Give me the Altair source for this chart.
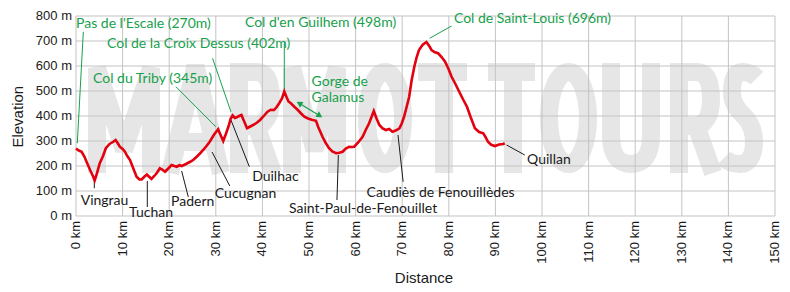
import altair as alt
import pandas as pd

# ---------------- data ----------------
dist_km = [0.0, 0.6, 1.2, 1.8, 2.4, 3.0, 3.7, 4.0, 4.4, 5.1, 5.8, 6.4, 7.2, 8.0, 8.5, 9.0, 9.4,
           10.0, 10.5, 11.0, 11.6, 12.3, 13.0, 13.6, 14.1, 14.7, 15.2, 15.7, 16.2, 16.8, 17.3,
           18.0, 18.5, 19.1, 19.8, 20.5, 21.1, 21.6, 22.2, 22.7, 23.6, 24.5, 25.2, 25.9, 26.6,
           27.3, 28.0, 28.7, 29.6, 30.5, 31.0, 31.6, 32.2, 32.7, 33.2, 33.6, 34.1, 34.5, 35.0,
           35.5, 36.1, 36.7, 37.3, 38.0, 38.8, 39.5, 40.3, 41.1, 41.8, 42.5, 43.1, 43.6, 44.2,
           44.7, 45.2, 45.6, 46.1, 46.8, 47.6, 48.3, 49.0, 49.8, 50.6, 51.5, 52.0, 52.9, 53.6,
           54.3, 55.0, 55.8, 56.5, 57.2, 57.9, 58.6, 59.2, 59.7, 60.6, 61.5, 62.2, 62.9, 63.5,
           63.9, 64.5, 65.1, 65.8, 66.5, 67.2, 67.9, 68.6, 69.4, 69.9, 70.4, 71.0, 71.5, 72.0,
           72.6, 73.1, 73.6, 74.4, 75.2, 75.8, 76.3, 77.0, 77.7, 78.5, 79.2, 79.9, 80.6, 81.5,
           82.4, 83.1, 83.9, 84.7, 85.6, 86.5, 87.4, 87.9, 88.4, 89.1, 89.9, 90.8, 91.7, 92.0]
elev_m = [270, 262, 257, 238, 211, 185, 157, 142, 165, 211, 240, 271, 288, 297, 304, 290, 277,
          268, 257, 240, 224, 190, 157, 146, 146, 158, 166, 157, 148, 160, 171,
          191, 186, 177, 190, 204, 200, 197, 203, 200, 208, 217, 225, 237, 250,
          264, 280, 297, 325, 347, 325, 300, 330, 357, 390, 402, 392, 395, 400,
          404, 378, 351, 357, 364, 373, 384, 400, 417, 425, 424, 437, 451, 470,
          498, 475, 458, 451, 438, 424, 410, 397, 390, 385, 381, 355, 317, 292,
          271, 258, 251, 253, 257, 270, 277, 276, 277, 295, 317, 345, 371, 400,
          420, 390, 364, 350, 344, 348, 337, 342, 351, 370, 397, 440, 477, 540,
          597, 635, 664, 685, 696, 680, 664, 655, 651, 635, 617, 590, 557, 525,
          491, 465, 437, 395, 351, 336, 331, 315, 297, 285, 280, 286, 288, 291]

x_ticks = list(range(0, 151, 10))
y_ticks = list(range(0, 801, 100))
x_tick_labels = [f"{v} km" for v in x_ticks]
y_tick_labels = [f"{v} m" for v in y_ticks]
x_title = "Distance"
y_title = "Elevation"

col_labels = ["Pas de l'Escale (270m)", "Col de la Croix Dessus (402m)", "Col du Triby (345m)",
              "Col d'en Guilhem (498m)", "Col de Saint-Louis (696m)", "Gorge de", "Galamus"]
col_label_km = [0.0, 6.65, 3.65, 36.25, 81.1, 50.55, 50.55]
col_label_m = [768, 688, 548, 772, 788, 537, 471]

town_labels = ["Vingrau", "Tuchan", "Padern", "Cucugnan", "Duilhac",
               "Saint-Paul-de-Fenouillet", "Caudiès de Fenouillèdes", "Quillan"]
town_label_km = [1.0, 11.4, 20.4, 29.8, 37.8, 45.7, 62.35, 96.8]
town_label_m = [60, 12, 56, 87, 157, 27, 93, 224]

green_lead_km = [0.28, 33.25, 30.0, 44.7, 75.9]
green_lead_m = [291, 417, 357, 504, 711]
green_lead_km2 = [1.57, 29.3, 21.45, 44.7, 80.6]
green_lead_m2 = [737, 631, 517, 696, 760]

black_lead_km = [3.93, 15.3, 22.67, 29.2, 33.25, 56.3, 69.1, 92.4]
black_lead_m = [140, 140, 180, 256, 384, 244, 324, 284]
black_lead_km2 = [3.93, 15.3, 24.1, 33.0, 37.2, 56.0, 70.2, 96.3]
black_lead_m2 = [111, 36, 76, 120, 197, 64, 137, 244]

gorge_km = [47.9, 52.3]
gorge_m = [451, 401]
gorge_head_angle = [211.4, 31.4]

GREEN = "#18a04c"
RED = "#e3000f"
INK = "#1a1a1a"
GRID = "#c4c4c4"
W, H = 699, 200
PAD_L, PAD_T = 76, 16

# ---------------- watermark glyph path (decoration) ----------------
WM_CX, WM_CY, WM_R = 425.0, 118.0, 350.0


def pt(x, y):
    return f"{(x - WM_CX) / WM_R:.4f} {(y - WM_CY) / WM_R:.4f}"


def ellipse(cx, cy, rx, ry):
    k = 0.5523
    return (f"M {pt(cx - rx, cy)} "
            f"C {pt(cx - rx, cy - ry * k)} {pt(cx - rx * k, cy - ry)} {pt(cx, cy - ry)} "
            f"C {pt(cx + rx * k, cy - ry)} {pt(cx + rx, cy - ry * k)} {pt(cx + rx, cy)} "
            f"C {pt(cx + rx, cy + ry * k)} {pt(cx + rx * k, cy + ry)} {pt(cx, cy + ry)} "
            f"C {pt(cx - rx * k, cy + ry)} {pt(cx - rx, cy + ry * k)} {pt(cx - rx, cy)} Z ")


def letter_m(l, r):
    return f"M {pt(l, 173)} L {pt(l, 68)} L {pt((l + r) / 2, 150)} L {pt(r, 68)} L {pt(r, 173)} "


def letter_r(s):
    return (f"M {pt(s, 173)} L {pt(s, 72)} L {pt(s + 17, 72)} "
            f"C {pt(s + 29, 72)} {pt(s + 32, 84)} {pt(s + 32, 99)} "
            f"C {pt(s + 32, 114)} {pt(s + 27, 126)} {pt(s + 15, 126)} L {pt(s, 126)} "
            f"M {pt(s + 18, 128)} L {pt(s + 34, 173)} ")


def letter_t(l, r, stem):
    return f"M {pt(l, 72)} L {pt(r, 72)} M {pt(stem, 72)} L {pt(stem, 173)} "


wm_path = (
    letter_m(97, 151)
    + f"M {pt(170, 173)} L {pt(195.5, 66)} L {pt(221, 173)} M {pt(181, 142)} L {pt(210, 142)} "
    + letter_r(239)
    + letter_m(292, 337)
    + ellipse(385, 118, 18, 46)
    + letter_t(418, 467, 444)
    + letter_t(488, 535, 513)
    + ellipse(568.5, 118, 19.5, 46)
    + f"M {pt(611, 63)} L {pt(611, 135)} C {pt(611, 156)} {pt(619, 164)} {pt(631, 164)} "
      f"C {pt(643, 164)} {pt(651, 156)} {pt(651, 135)} L {pt(651, 63)} "
    + letter_r(679)
    + f"M {pt(757, 78)} C {pt(752, 73)} {pt(746, 72)} {pt(742, 72)} "
      f"C {pt(735, 72)} {pt(732, 80)} {pt(732, 92)} C {pt(732, 104)} {pt(738, 110)} {pt(744, 116)} "
      f"C {pt(750, 122)} {pt(754, 130)} {pt(754, 142)} C {pt(754, 157)} {pt(748, 164)} {pt(740, 164)} "
      f"C {pt(734, 164)} {pt(728, 162)} {pt(724, 158)}"
)

# ---------------- tables ----------------
profile = pd.DataFrame({"km": dist_km, "m": elev_m})
xt = pd.DataFrame({"km": x_ticks, "t": x_tick_labels})
yt = pd.DataFrame({"m": y_ticks, "t": y_tick_labels})
cols = pd.DataFrame({"t": col_labels, "km": col_label_km, "m": col_label_m})
towns = pd.DataFrame({"t": town_labels, "km": town_label_km, "m": town_label_m})
gl = pd.DataFrame({"km": green_lead_km, "m": green_lead_m, "km2": green_lead_km2, "m2": green_lead_m2})
bl = pd.DataFrame({"km": black_lead_km, "m": black_lead_m, "km2": black_lead_km2, "m2": black_lead_m2})
gorge = pd.DataFrame({"km": gorge_km, "m": gorge_m, "a": gorge_head_angle})
gorge_seg = pd.DataFrame({"km": [gorge_km[0]], "m": [gorge_m[0]], "km2": [gorge_km[1]], "m2": [gorge_m[1]]})
one = pd.DataFrame({"k": [0]})

xs = alt.Scale(domain=[0, 150], nice=False, zero=False)
ys = alt.Scale(domain=[0, 800], nice=False)
X = alt.X("km:Q", scale=xs, axis=None)
Y = alt.Y("m:Q", scale=ys, axis=None)

watermark = alt.Chart(one).mark_point(
    shape=wm_path, size=(2 * WM_R) ** 2, filled=False, color="#c4c4c4",
    strokeWidth=18, opacity=0.42, strokeJoin="miter", strokeMiterLimit=2, strokeCap="butt"
).encode(x=alt.value(WM_CX - PAD_L), y=alt.value(WM_CY - PAD_T))

# grid drawn as thin tick rectangles, one per tick value, through the scales
grid_v = alt.Chart(xt).mark_tick(orient="vertical", thickness=1, size=H, color=GRID,
                                 opacity=1).encode(x=X)
grid_h = alt.Chart(yt).mark_tick(orient="horizontal", thickness=1, size=W, color=GRID,
                                 opacity=1).encode(y=Y)

x_lab = alt.Chart(xt).mark_text(angle=270, align="right", baseline="middle",
                                font="Liberation Sans", fontSize=13, color=INK).encode(
    x=X, y=alt.value(H + 5), text="t:N")
y_lab = alt.Chart(yt).mark_text(align="right", baseline="middle",
                                font="Liberation Sans", fontSize=13, color=INK).encode(
    y=Y, x=alt.value(-4), text="t:N")
x_tit = alt.Chart(one).mark_text(align="center", baseline="middle", font="Liberation Sans",
                                 fontSize=15, color=INK, text=x_title).encode(
    x=alt.value(348), y=alt.value(H + 62))
y_tit = alt.Chart(one).mark_text(align="center", baseline="middle", font="Liberation Sans",
                                 fontSize=15, color=INK, text=y_title, angle=270).encode(
    x=alt.value(-58.5), y=alt.value(100.7))

profile_line = alt.Chart(profile).mark_line(color=RED, strokeWidth=2.6).encode(x=X, y=Y)

green_rules = alt.Chart(gl).mark_rule(color=GREEN, strokeWidth=1).encode(
    x=X, y=Y, x2="km2:Q", y2="m2:Q")
black_rules = alt.Chart(bl).mark_rule(color=INK, strokeWidth=1).encode(
    x=X, y=Y, x2="km2:Q", y2="m2:Q")
gorge_rule = alt.Chart(gorge_seg).mark_rule(color=GREEN, strokeWidth=1.3).encode(
    x=X, y=Y, x2="km2:Q", y2="m2:Q")
gorge_heads = alt.Chart(gorge).mark_point(shape="triangle-right", filled=True, color=GREEN,
                                          size=45, opacity=1).encode(
    x=X, y=Y, angle=alt.Angle("a:Q", scale=None))

col_text = alt.Chart(cols).mark_text(align="left", baseline="middle", font="Lato", fontSize=14,
                                     color=GREEN).encode(x=X, y=Y, text="t:N")
town_text = alt.Chart(towns).mark_text(align="left", baseline="middle", font="Lato", fontSize=14,
                                       color=INK).encode(x=X, y=Y, text="t:N")

chart = alt.layer(
    watermark, grid_v, grid_h, x_lab, y_lab, x_tit, y_tit,
    green_rules, black_rules, gorge_rule, gorge_heads,
    profile_line, col_text, town_text,
).properties(
    width=W, height=H,
    autosize=alt.AutoSizeParams(type="none"),
    padding={"left": PAD_L, "top": PAD_T, "right": 790 - PAD_L - W, "bottom": 292 - PAD_T - H},
).configure_view(stroke=None)

chart.save("out.html", embed_options={"renderer": "svg", "actions": False})
